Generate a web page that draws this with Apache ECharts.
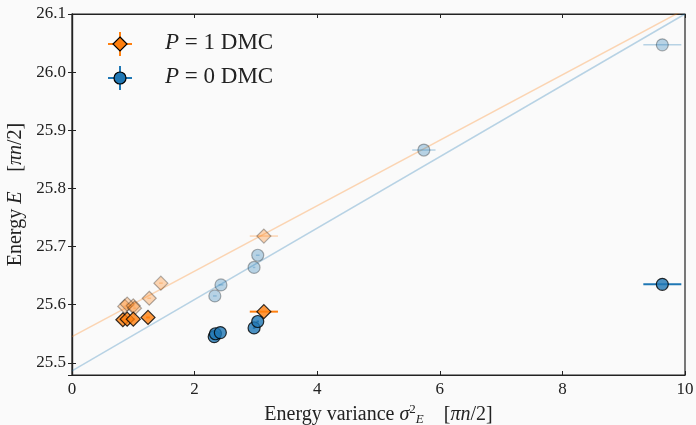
<!DOCTYPE html>
<html>
<head>
<meta charset="utf-8">
<script src="https://cdn.jsdelivr.net/npm/echarts@6/dist/echarts.min.js"></script>
<style>
  html, body { margin: 0; padding: 0; background: #fafafa; }
  #main { width: 696px; height: 425px; }
</style>
</head>
<body>
<div id="main"></div>
<script>
// P = 1 DMC (solid) and its pale companions
var p1X = [0.83, 0.90, 1.00, 1.24, 3.13];
var p1Y = [25.574, 25.575, 25.575, 25.578, 25.588];
var p1Err = [0.02, 0.02, 0.02, 0.03, 0.23];

var p1PaleX = [0.86, 0.90, 1.00, 1.02, 1.26, 1.45, 3.13];
var p1PaleY = [25.597, 25.601, 25.598, 25.594, 25.611, 25.637, 25.718];
var p1PaleErr = [0.02, 0.02, 0.02, 0.02, 0.03, 0.03, 0.23];

// P = 0 DMC
var p0X = [2.32, 2.34, 2.42, 2.97, 3.03, 9.63];
var p0Y = [25.545, 25.550, 25.552, 25.560, 25.571, 25.635];
var p0Err = [0.02, 0.02, 0.02, 0.02, 0.02, 0.31];

var p0PaleX = [2.33, 2.43, 2.97, 3.03, 5.74, 9.63];
var p0PaleY = [25.615, 25.634, 25.664, 25.685, 25.866, 26.047];
var p0PaleErr = [0.03, 0.04, 0.02, 0.03, 0.19, 0.31];

// linear fits
var fitX = [0, 10];
var fitP1 = [25.545, 26.108];
var fitP0 = [25.486, 26.100];

var xTicks = [0, 2, 4, 6, 8, 10];

var ORANGE = '#ff7f0e', BLUE = '#1f77b4';
var FONT = '"Liberation Serif", "DejaVu Serif", serif';

function pairs(xs, ys) {
    return xs.map(function (x, i) { return [x, ys[i]]; });
}

// horizontal error bars
function errBars(xs, ys, errs, color, opacity, width, z) {
    return {
        type: 'custom',
        silent: true,
        z: z,
        encode: { x: 0, y: 1 },
        data: xs.map(function (x, i) { return [x, ys[i], errs[i]]; }),
        renderItem: function (params, api) {
            var a = api.coord([api.value(0) - api.value(2), api.value(1)]);
            var b = api.coord([api.value(0) + api.value(2), api.value(1)]);
            return {
                type: 'line',
                shape: { x1: a[0], y1: a[1], x2: b[0], y2: b[1] },
                style: { stroke: color, lineWidth: width, opacity: opacity }
            };
        }
    };
}

var myChart = echarts.init(document.getElementById('main'));

var tickStyle = { inside: true, length: 4, lineStyle: { color: '#222', width: 1 } };

var option = {
    backgroundColor: '#fafafa',
    animation: false,
    grid: { left: 72, right: 11, top: 14, bottom: 50, show: true, borderColor: '#222', borderWidth: 1.2,
            containLabel: false, outerBoundsMode: 'none' },
    xAxis: [{
        type: 'value', min: 0, max: 10, interval: 2,
        axisLine: { show: true, lineStyle: { color: '#222', width: 1.2 } },
        axisTick: tickStyle,
        splitLine: { show: false },
        axisLabel: { color: '#222', fontFamily: FONT, fontSize: 17, margin: 6,
            formatter: function (v) { return xTicks.indexOf(v) >= 0 ? String(v) : ''; } },
        name: '{n|Energy variance }{s|σ}{sup|2}{sub|E}{n|    [}{s|πn}{n|/2]}',
        nameLocation: 'middle', nameGap: 24,
        nameTextStyle: {
            rich: {
                n: { fontFamily: FONT, fontSize: 20, color: '#222' },
                s: { fontFamily: FONT, fontSize: 20, fontStyle: 'italic', color: '#222' },
                sup: { fontFamily: FONT, fontSize: 13, color: '#222', verticalAlign: 'top', padding: [0, 0, 10, 0] },
                sub: { fontFamily: FONT, fontSize: 13, fontStyle: 'italic', color: '#222', verticalAlign: 'bottom', padding: [4, 0, 0, 0] }
            }
        }
    }, {
        type: 'value', min: 0, max: 10, interval: 2, position: 'top',
        axisLine: { show: true, lineStyle: { color: '#222', width: 1.2 } },
        axisTick: tickStyle, axisLabel: { show: false }, splitLine: { show: false }
    }],
    yAxis: [{
        type: 'value', min: 25.479, max: 26.1, splitNumber: 6,
        axisLine: { show: true, lineStyle: { color: '#222', width: 1.2 } },
        axisTick: tickStyle,
        splitLine: { show: false },
        axisLabel: { color: '#222', fontFamily: FONT, fontSize: 17, margin: 6, showMinLabel: false,
            formatter: function (v) {
                return Math.abs(v * 10 - Math.round(v * 10)) < 1e-6 ? v.toFixed(1) : '';
            } },
        name: '{n|Energy }{s|E}{n|    [}{s|πn}{n|/2]}',
        nameLocation: 'middle', nameRotate: 90, nameGap: 45,
        nameTextStyle: {
            rich: {
                n: { fontFamily: FONT, fontSize: 20, color: '#222' },
                s: { fontFamily: FONT, fontSize: 20, fontStyle: 'italic', color: '#222' }
            }
        }
    }, {
        type: 'value', min: 25.479, max: 26.1, splitNumber: 6, position: 'right',
        axisLine: { show: true, lineStyle: { color: '#222', width: 1.2 } },
        axisTick: tickStyle, axisLabel: { show: false }, splitLine: { show: false }
    }],
    series: [
        {
            type: 'line', data: pairs(fitX, fitP1), showSymbol: false, silent: true, clip: true, z: 1,
            lineStyle: { color: ORANGE, opacity: 0.3, width: 1.5 }
        },
        {
            type: 'line', data: pairs(fitX, fitP0), showSymbol: false, silent: true, clip: true, z: 1,
            lineStyle: { color: BLUE, opacity: 0.3, width: 1.5 }
        },
        errBars(p1PaleX, p1PaleY, p1PaleErr, ORANGE, 0.3, 1.5, 2),
        errBars(p0PaleX, p0PaleY, p0PaleErr, BLUE, 0.3, 1.5, 2),
        {
            type: 'scatter', data: pairs(p1PaleX, p1PaleY), symbol: 'diamond', symbolSize: 14, z: 3,
            itemStyle: { color: ORANGE, borderColor: '#000', borderWidth: 1.2, opacity: 0.3 }
        },
        {
            type: 'scatter', data: pairs(p0PaleX, p0PaleY), symbol: 'circle', symbolSize: 12, z: 3,
            itemStyle: { color: BLUE, borderColor: '#000', borderWidth: 1.2, opacity: 0.3 }
        },
        errBars(p1X, p1Y, p1Err, ORANGE, 1, 2, 4),
        errBars(p0X, p0Y, p0Err, BLUE, 1, 2, 4),
        {
            type: 'scatter', data: pairs(p1X, p1Y), symbol: 'diamond', symbolSize: 14, z: 5,
            itemStyle: { color: ORANGE, borderColor: '#000', borderWidth: 1.2 }
        },
        {
            type: 'scatter', data: pairs(p0X, p0Y), symbol: 'circle', symbolSize: 12, z: 5,
            itemStyle: { color: BLUE, borderColor: '#000', borderWidth: 1.2 }
        }
    ],
    // legend drawn by hand to get the error-bar crosses
    graphic: [
        { type: 'line', shape: { x1: 108, y1: 44, x2: 132, y2: 44 }, style: { stroke: ORANGE, lineWidth: 2 } },
        { type: 'line', shape: { x1: 120, y1: 32, x2: 120, y2: 56 }, style: { stroke: ORANGE, lineWidth: 2 } },
        { type: 'polygon', shape: { points: [[120, 37], [127, 44], [120, 51], [113, 44]] },
          style: { fill: ORANGE, stroke: '#000', lineWidth: 1.2 } },
        { type: 'text', left: 165, top: 31, style: {
            text: '{i|P}{n| = 1 DMC}',
            rich: {
                i: { fontFamily: FONT, fontSize: 23, fontStyle: 'italic', fill: '#222' },
                n: { fontFamily: FONT, fontSize: 23, fill: '#222' }
            } } },
        { type: 'line', shape: { x1: 108, y1: 78, x2: 132, y2: 78 }, style: { stroke: BLUE, lineWidth: 2 } },
        { type: 'line', shape: { x1: 120, y1: 66, x2: 120, y2: 90 }, style: { stroke: BLUE, lineWidth: 2 } },
        { type: 'circle', shape: { cx: 120, cy: 78, r: 6 }, style: { fill: BLUE, stroke: '#000', lineWidth: 1.2 } },
        { type: 'text', left: 165, top: 65, style: {
            text: '{i|P}{n| = 0 DMC}',
            rich: {
                i: { fontFamily: FONT, fontSize: 23, fontStyle: 'italic', fill: '#222' },
                n: { fontFamily: FONT, fontSize: 23, fill: '#222' }
            } } }
    ]
};

myChart.setOption(option);
</script>
</body>
</html>
